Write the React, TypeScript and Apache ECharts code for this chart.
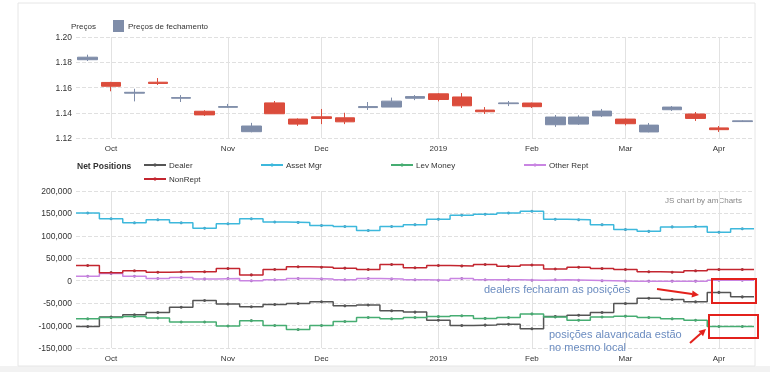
import React, { useEffect, useRef } from 'react';
import * as echarts from 'echarts';

// ---- data ----
const weeks = [
  '2018-09-25', '2018-10-02', '2018-10-09', '2018-10-16', '2018-10-23', '2018-10-30',
  '2018-11-06', '2018-11-13', '2018-11-20', '2018-11-27', '2018-12-04', '2018-12-11',
  '2018-12-18', '2018-12-24', '2018-12-31', '2019-01-08', '2019-01-15', '2019-01-22',
  '2019-01-29', '2019-02-05', '2019-02-12', '2019-02-19', '2019-02-26', '2019-03-05',
  '2019-03-12', '2019-03-19', '2019-03-26', '2019-04-02', '2019-04-09',
];
const tickIndex = [1, 6, 10, 15, 19, 23, 27];
const tickLabels = ['Oct', 'Nov', 'Dec', '2019', 'Feb', 'Mar', 'Apr'];

const priceOpen = [1.182, 1.164, 1.1555, 1.1642, 1.1515, 1.1412, 1.1443, 1.125, 1.1478, 1.135, 1.1368, 1.136, 1.1441, 1.1445, 1.1515, 1.155, 1.1525, 1.1421, 1.1472, 1.1477, 1.1305, 1.131, 1.1375, 1.135, 1.1248, 1.1424, 1.139, 1.128, 1.133];
const priceClose = [1.184, 1.161, 1.1562, 1.1632, 1.152, 1.1383, 1.1449, 1.1295, 1.1392, 1.131, 1.1355, 1.1328, 1.1449, 1.1492, 1.1528, 1.1505, 1.1455, 1.1408, 1.1478, 1.1448, 1.1366, 1.1366, 1.1413, 1.1313, 1.1302, 1.1445, 1.1355, 1.1266, 1.1336];
const priceLow = [1.181, 1.157, 1.149, 1.162, 1.1485, 1.1375, 1.1438, 1.1245, 1.139, 1.1296, 1.131, 1.131, 1.1422, 1.1445, 1.15, 1.149, 1.1438, 1.139, 1.1453, 1.1438, 1.1288, 1.1303, 1.1366, 1.13, 1.1245, 1.1414, 1.1335, 1.1248, 1.1327];
const priceHigh = [1.186, 1.1645, 1.159, 1.1675, 1.154, 1.142, 1.147, 1.132, 1.1493, 1.1355, 1.143, 1.14, 1.1485, 1.152, 1.154, 1.1555, 1.1556, 1.1445, 1.1493, 1.148, 1.1382, 1.138, 1.143, 1.1355, 1.1319, 1.1453, 1.1406, 1.1295, 1.134];

const dealer = [-102000, -81000, -76000, -71000, -59000, -44000, -52000, -58000, -53000, -51000, -47000, -56000, -54000, -67000, -70000, -88000, -100000, -99000, -97000, -107000, -80000, -77000, -71000, -51000, -39000, -42000, -47000, -26000, -36000];
const assetMgr = [151000, 138000, 129000, 136000, 129000, 117000, 127000, 138000, 131000, 130000, 123000, 121000, 112000, 121000, 125000, 137000, 146000, 148000, 151000, 155000, 137000, 136000, 125000, 114000, 110000, 120000, 121000, 108000, 116000];
const levMoney = [-85000, -82000, -80000, -83000, -92000, -92000, -101000, -89000, -100000, -109000, -100000, -91000, -82000, -85000, -82000, -80000, -78000, -84000, -82000, -74000, -81000, -88000, -81000, -79000, -82000, -85000, -88000, -102000, -102000];
const otherRept = [10000, 16000, 10000, 5000, 7000, 4000, 5000, 0, 2000, 5000, 4000, 2000, 5000, 4000, 2000, 1000, 5000, 2000, 2000, 1000, 2000, 1000, 0, -1000, -1000, -1000, -1000, 1000, 1000];
const nonRept = [34000, 18000, 22000, 19000, 20000, 20000, 27000, 13000, 25000, 31000, 30000, 28000, 25000, 36000, 29000, 34000, 33000, 36000, 32000, 35000, 26000, 30000, 27000, 25000, 20000, 19000, 22000, 25000, 25000];

const netSeries = [
  { name: 'Dealer', values: dealer, color: '#555555', dot: '#333333' },
  { name: 'Asset Mgr', values: assetMgr, color: '#3db8dc', dot: '#2a7fa8' },
  { name: 'Lev Money', values: levMoney, color: '#46ad72', dot: '#2c7a4e' },
  { name: 'Other Rept', values: otherRept, color: '#c985e2', dot: '#8c4fa8' },
  { name: 'NonRept', values: nonRept, color: '#c3252f', dot: '#7a1218' },
];
const legendLeft = [143, 260, 390, 523, 143];
const legendTop = [161, 161, 161, 161, 175];

const FONT = '"Liberation Sans", Arial, sans-serif';
const TXT = '#333333';

function arrow(x1: number, y1: number, x2: number, y2: number, color: string) {
  const ang = Math.atan2(y2 - y1, x2 - x1);
  const L = 7, W = 3.5;
  const bx = x2 - L * Math.cos(ang), by = y2 - L * Math.sin(ang);
  const px = -Math.sin(ang) * W, py = Math.cos(ang) * W;
  return [
    { type: 'line', shape: { x1, y1, x2: bx, y2: by }, style: { stroke: color, lineWidth: 2 }, z: 100 },
    { type: 'polygon', shape: { points: [[x2, y2], [bx + px, by + py], [bx - px, by - py]] }, style: { fill: color }, z: 100 },
  ];
}

export default function App() {
  const ref = useRef<HTMLDivElement>(null);
  useEffect(() => {
    if (!ref.current) return;
    const chart = echarts.init(ref.current, null, { renderer: 'svg' });
    const showAt = (idx: number) => tickIndex.includes(idx);
    const labelFmt = (_v: string, idx: number) => {
      const k = tickIndex.indexOf(idx);
      return k >= 0 ? tickLabels[k] : '';
    };
    const catAxis = (gridIndex: number) => ({
      type: 'category', gridIndex, data: weeks, boundaryGap: true,
      axisLine: { show: false }, axisTick: { show: false },
      axisLabel: { interval: showAt, formatter: labelFmt, fontSize: 8, color: TXT, fontFamily: FONT, margin: 6 },
      splitLine: { show: true, interval: showAt, alignWithLabel: true, lineStyle: { color: '#e2e2e2', width: 1 } },
    });
    const red = '#e3211c';
    const option: any = {
      animation: false,
      textStyle: { fontFamily: FONT },
      grid: [
        { left: 76, top: 37, width: 678, height: 101 },
        { left: 76, top: 191, width: 678, height: 157 },
      ],
      xAxis: [
        catAxis(0),
        catAxis(1),
        { type: 'value', gridIndex: 1, min: 0, max: weeks.length, show: false },
      ],
      yAxis: [
        {
          type: 'value', gridIndex: 0, min: 1.12, max: 1.2, interval: 0.02,
          axisLine: { show: false }, axisTick: { show: false },
          axisLabel: { formatter: (v: number) => v.toFixed(2), fontSize: 8.5, color: TXT, fontFamily: FONT, margin: 4 },
          splitLine: { lineStyle: { type: 'dashed', color: '#e0e0e0' } },
        },
        {
          type: 'value', gridIndex: 1, min: -150000, max: 200000, interval: 50000,
          axisLine: { show: false }, axisTick: { show: false },
          axisLabel: { formatter: (v: number) => v.toLocaleString('en-US'), fontSize: 8.5, color: TXT, fontFamily: FONT, margin: 4 },
          splitLine: { lineStyle: { type: 'dashed', color: '#e0e0e0' } },
        },
      ],
      legend: [
        {
          data: [{ name: 'Preços de fechamento', itemStyle: { color: '#7f8da9', borderWidth: 0 } }],
          left: 113, top: 20, itemWidth: 11, itemHeight: 12, icon: 'rect', padding: 0, selectedMode: false,
          textStyle: { fontSize: 8, color: TXT, fontFamily: FONT, padding: [0, 0, 0, -1] },
        },
        ...netSeries.map((s, i) => ({
          data: [s.name], left: legendLeft[i], top: legendTop[i], itemWidth: 22, itemHeight: 4,
          padding: 0, selectedMode: false,
          textStyle: { fontSize: 8, color: TXT, fontFamily: FONT, padding: [0, 0, 0, -2] },
        })),
      ],
      series: [
        {
          type: 'candlestick', name: 'Preços de fechamento', xAxisIndex: 0, yAxisIndex: 0, barWidth: 20,
          data: priceOpen.map((o, i) => [o, priceClose[i], priceLow[i], priceHigh[i]]),
          itemStyle: { color: '#7f8da9', color0: '#db4c3c', borderColor: '#7f8da9', borderColor0: '#db4c3c', borderWidth: 1 },
        },
        ...netSeries.map((s) => ({
          type: 'line', name: s.name, xAxisIndex: 2, yAxisIndex: 1, step: 'end',
          data: s.values.map((v, i) => [i, v]).concat([[s.values.length, s.values[s.values.length - 1]]]),
          showSymbol: false, symbol: 'circle', lineStyle: { color: s.color, width: 1.5 },
          itemStyle: { color: s.color }, silent: true,
        })),
        ...netSeries.map((s) => ({
          type: 'scatter', name: s.name, xAxisIndex: 1, yAxisIndex: 1, data: s.values,
          symbolSize: 3, itemStyle: { color: s.dot }, silent: true,
        })),
      ],
      graphic: [
        { type: 'rect', shape: { x: 0, y: 366, width: 770, height: 6 }, style: { fill: '#f2f2f2' }, z: -11 },
        { type: 'rect', shape: { x: 18, y: 3, width: 737, height: 363 }, style: { fill: '#ffffff', stroke: '#e6e6e6', lineWidth: 1 }, z: -10 },
        { type: 'text', x: 71, y: 26, style: { text: 'Preços', fontSize: 8, fill: TXT, fontFamily: FONT, verticalAlign: 'middle' } },
        { type: 'text', x: 77, y: 166, style: { text: 'Net Positions', fontSize: 8.5, fontWeight: 'bold', fill: TXT, fontFamily: FONT, verticalAlign: 'middle' } },
        { type: 'text', x: 742, y: 200, style: { text: 'JS chart by amCharts', fontSize: 8, fill: '#888888', fontFamily: FONT, align: 'right', verticalAlign: 'middle' } },
        { type: 'text', x: 484, y: 289, z: 100, style: { text: 'dealers fecharam as posições', fontSize: 11, fill: '#6b8cc0', fontFamily: FONT, verticalAlign: 'middle' } },
        { type: 'text', x: 549, y: 334, z: 100, style: { text: 'posições alavancada estão', fontSize: 11, fill: '#6b8cc0', fontFamily: FONT, verticalAlign: 'middle' } },
        { type: 'text', x: 549, y: 347, z: 100, style: { text: 'no mesmo local', fontSize: 11, fill: '#6b8cc0', fontFamily: FONT, verticalAlign: 'middle' } },
        { type: 'rect', z: 100, shape: { x: 712, y: 279, width: 44, height: 24 }, style: { fill: 'none', stroke: red, lineWidth: 2 } },
        { type: 'rect', z: 100, shape: { x: 709, y: 315, width: 49, height: 23 }, style: { fill: 'none', stroke: red, lineWidth: 2 } },
        ...arrow(657, 289, 699, 295, red),
        ...arrow(690, 343, 706, 329, red),
      ],
    };
    chart.setOption(option);
    return () => chart.dispose();
  }, []);
  return <div ref={ref} style={{ position: 'fixed', left: 0, top: 0, width: 770, height: 381 }} />;
}
